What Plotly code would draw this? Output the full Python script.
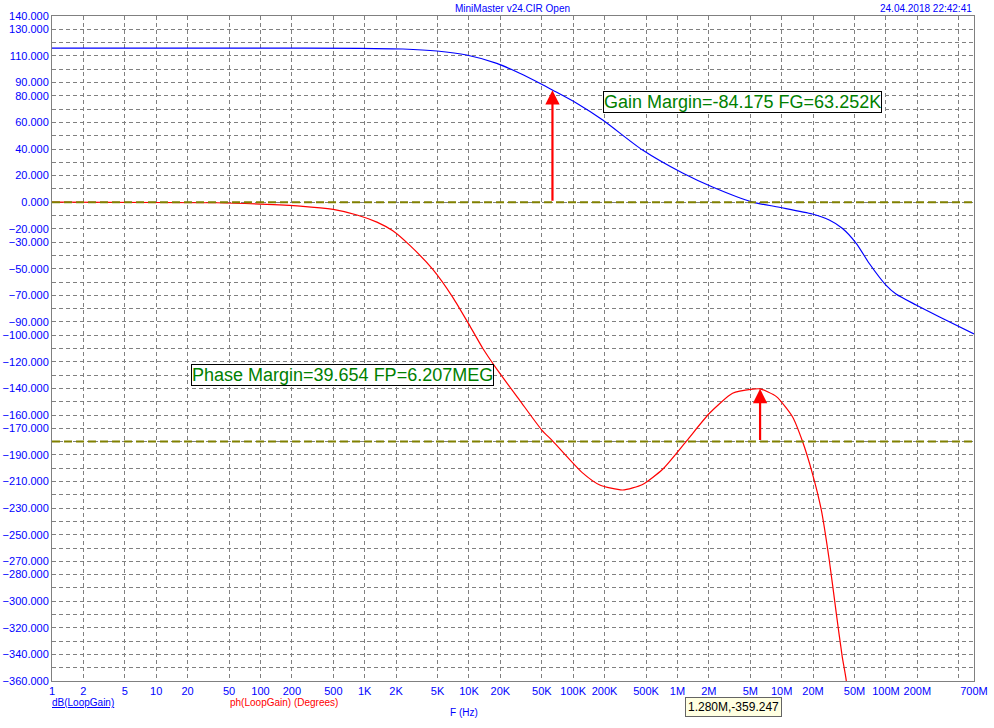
import math
import plotly.graph_objects as go

# ---------------- data ----------------
gain_freq = [1, 100, 902, 2330, 4930, 9500, 18500, 30700, 47800, 63700, 108000, 192000,
             463000, 1.12e6, 2.17e6, 5.24e6, 9.5e6, 19.7e6, 28.6e6, 38.1e6, 51.9e6, 69e6,
             100e6, 125e6, 195e6, 324e6, 700e6]
gain_db = [115.8, 115.8, 115.7, 115.2, 113.7, 110.7, 104.4, 96.9, 89.4, 84.2, 74.4, 61.8,
           39.2, 21.9, 11.4, 0.1, -3.8, -8.9, -13.4, -19.6, -30.9, -45.9,
           -62.3, -69.0, -77.3, -86.1, -99.0]

phase_freq = [1, 38, 99, 240, 498, 843, 1310, 1860, 2710, 4500, 7000, 10200, 13600, 18500,
              30700, 50000, 63700, 123000, 180000, 298000, 463000, 721000, 1.22e6, 2.03e6,
              3.38e6, 5.24e6, 6.2e6, 8.9e6, 12.7e6, 15.8e6, 19.7e6, 24e6, 28.6e6, 33.4e6,
              38.1e6, 41.6e6, 44e6]
phase_deg = [0, -0.4, -1.4, -2.9, -5.4, -9.6, -15.0, -21.5, -32.5, -50.5, -71.5, -93.0, -110.0,
             -125.5, -149.0, -171.3, -179.6, -203.5, -212.6, -216.4, -212.2, -200.8, -179.6,
             -158.7, -143.7, -140.6, -140.35, -146.2, -161.3, -179.6, -203.9, -231.4, -269.0,
             -309.0, -341.7, -359.3, -380.0]

ref_levels = [0, -180]

fg_freq = 63252
gain_margin_val = 84.175
fp_freq = 6.207e6
phase_at_fp = -140.346

x_tickvals = [1, 2, 5, 10, 20, 50, 100, 200, 500, 1e3, 2e3, 5e3, 1e4, 2e4, 5e4, 1e5, 2e5, 5e5,
              1e6, 2e6, 5e6, 1e7, 2e7, 5e7, 1e8, 2e8, 5e8, 7e8]
x_ticktext = ["1", "2", "5", "10", "20", "50", "100", "200", "500", "1K", "2K", "5K", "10K",
              "20K", "50K", "100K", "200K", "500K", "1M", "2M", "5M", "10M", "20M", "50M",
              "100M", "200M", "", "700M"]

y_tickvals = [140, 130, 110, 90, 80, 60, 40, 20, 0, -20, -30, -50, -70, -90, -100, -120, -140,
              -160, -170, -190, -210, -230, -250, -270, -280, -300, -320, -340, -360]
y_minor = list(range(-360, 141, 10))

# ---------------- figure ----------------
FONT = "Liberation Sans, Arial, sans-serif"
BLUE = "#0000ff"
GRID = "#808080"

fig = go.Figure()
fig.add_trace(go.Scatter(x=gain_freq, y=gain_db, mode="lines",
                         line=dict(color=BLUE, width=1.2, shape="spline", smoothing=0.7),
                         hoverinfo="skip", showlegend=False))
fig.add_trace(go.Scatter(x=phase_freq, y=phase_deg, mode="lines",
                         line=dict(color="#ff0000", width=1.2, shape="spline", smoothing=0.6),
                         hoverinfo="skip", showlegend=False))

for lv in ref_levels:
    fig.add_shape(type="line", xref="paper", x0=0, x1=1, yref="y", y0=lv, y1=lv,
                  line=dict(color="#808000", width=2, dash="8px,4px"), layer="above")

# arrows
fig.add_annotation(x=math.log10(fg_freq), y=gain_margin_val, ax=math.log10(fg_freq), ay=0,
                   xref="x", yref="y", axref="x", ayref="y", text="", showarrow=True,
                   arrowhead=2, arrowsize=1.3, arrowwidth=2.2, arrowcolor="#ff0000", standoff=0)
fig.add_annotation(x=math.log10(fp_freq), y=phase_at_fp, ax=math.log10(fp_freq), ay=-180,
                   xref="x", yref="y", axref="x", ayref="y", text="", showarrow=True,
                   arrowhead=2, arrowsize=1.3, arrowwidth=2.2, arrowcolor="#ff0000", standoff=0)

# margin boxes
fig.add_annotation(x=0.5976, y=0.8707, xref="paper", yref="paper", xanchor="left", yanchor="middle",
                   text="Gain Margin=-84.175 FG=63.252K", showarrow=False,
                   font=dict(family=FONT, size=18, color="#008000"),
                   bgcolor="white", bordercolor="black", borderwidth=1, borderpad=0)
fig.add_annotation(x=0.1508, y=0.4594, xref="paper", yref="paper", xanchor="left", yanchor="middle",
                   text="Phase Margin=39.654 FP=6.207MEG", showarrow=False,
                   font=dict(family=FONT, size=18, color="#008000"),
                   bgcolor="white", bordercolor="black", borderwidth=1, borderpad=0)

# header texts
fig.add_annotation(x=0.499, y=1.0, xref="paper", yref="paper", xanchor="center", yanchor="bottom",
                   text="MiniMaster v24.CIR Open", showarrow=False,
                   font=dict(family=FONT, size=10, color=BLUE))
fig.add_annotation(x=1.0, y=1.0, xref="paper", yref="paper", xanchor="right", yanchor="bottom",
                   text="24.04.2018 22:42:41", showarrow=False,
                   font=dict(family=FONT, size=10, color=BLUE))

# bottom labels
fig.add_annotation(x=-0.002, y=-0.0316, xref="paper", yref="paper", xanchor="left", yanchor="middle",
                   text="<u>dB(LoopGain)</u>", showarrow=False,
                   font=dict(family=FONT, size=10, color=BLUE))
fig.add_annotation(x=0.191, y=-0.0316, xref="paper", yref="paper", xanchor="left", yanchor="middle",
                   text="ph(LoopGain) (Degrees)", showarrow=False,
                   font=dict(family=FONT, size=10, color="#ff0000"))
fig.add_annotation(x=0.430, y=-0.0481, xref="paper", yref="paper", xanchor="left", yanchor="middle",
                   text="F (Hz)", showarrow=False,
                   font=dict(family=FONT, size=10, color=BLUE))
fig.add_annotation(x=0.739, y=-0.039, xref="paper", yref="paper", xanchor="center", yanchor="middle",
                   text="1.280M,-359.247", showarrow=False,
                   font=dict(family=FONT, size=12, color="black"),
                   bgcolor="#ffffe1", bordercolor="#646464", borderwidth=1, borderpad=2)

fig.update_xaxes(type="log", range=[0, math.log10(7e8)],
                 tickvals=x_tickvals, ticktext=x_ticktext,
                 tickfont=dict(family=FONT, size=11, color=BLUE),
                 showgrid=True, gridcolor=GRID, gridwidth=1, griddash="4px,3px",
                 showline=True, linecolor=GRID, linewidth=1, mirror=True,
                 ticks="", zeroline=False, fixedrange=True, automargin=False)
fig.update_yaxes(range=[-360, 140], tickvals=y_tickvals, tickformat=".3f",
                 tickfont=dict(family=FONT, size=11, color=BLUE),
                 showgrid=True, gridcolor=GRID, gridwidth=1, griddash="4px,3px",
                 minor=dict(tickvals=y_minor, showgrid=True, gridcolor=GRID, gridwidth=1,
                            griddash="4px,3px", ticks=""),
                 showline=True, linecolor=GRID, linewidth=1, mirror=True,
                 ticks="", zeroline=False, fixedrange=True, automargin=False)

fig.update_layout(width=994, height=728,
                  margin=dict(l=52, r=20, t=16, b=47, autoexpand=False),
                  paper_bgcolor="white", plot_bgcolor="white",
                  showlegend=False, hovermode=False,
                  font=dict(family=FONT))

fig.write_html("out.html", config={"displayModeBar": False, "staticPlot": True})
